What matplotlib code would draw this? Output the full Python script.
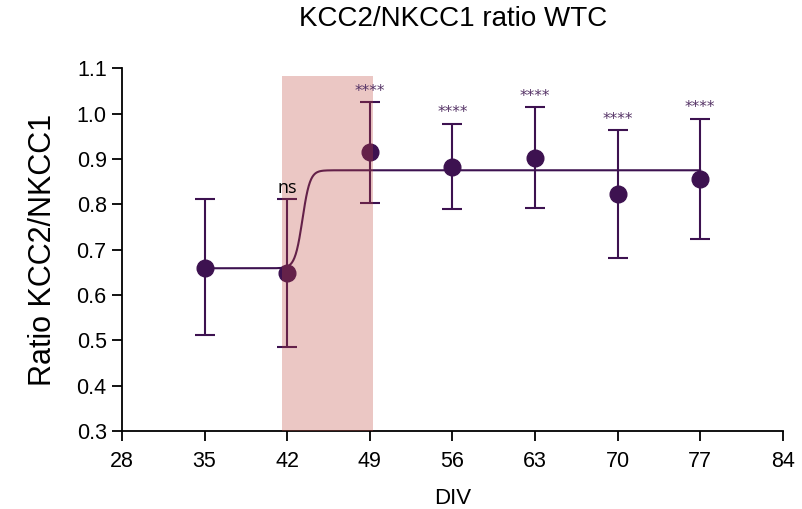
import numpy as np
import matplotlib
matplotlib.use("Agg")
import matplotlib.pyplot as plt
from matplotlib import font_manager

# ---- data ----
div = [35, 42, 49, 56, 63, 70, 77]
ratio = [0.659, 0.648, 0.915, 0.882, 0.903, 0.822, 0.856]
err_upper = [0.812, 0.812, 1.025, 0.977, 1.014, 0.963, 0.988]
err_lower = [0.512, 0.485, 0.802, 0.790, 0.792, 0.681, 0.724]
sig_labels = ["", "ns", "****", "****", "****", "****", "****"]
# sigmoidal fit parameters
fit_bottom = 0.659
fit_top = 0.875
fit_mid = 43.3
fit_slope = 0.32
fit_range = (35, 77)
shade_range = (41.6, 49.3)
shade_top = 1.082
xticks = [28, 35, 42, 49, 56, 63, 70, 77, 84]
yticks = [0.3, 0.4, 0.5, 0.6, 0.7, 0.8, 0.9, 1.0, 1.1]

names = {f.name for f in font_manager.fontManager.ttflist}
tick_font = "Liberation Sans Narrow" if "Liberation Sans Narrow" in names else "Liberation Sans"

purple = "#3d1250"
fig = plt.figure(figsize=(8.02, 5.09), dpi=100)
ax = fig.add_axes([0.152, 0.153, 0.824, 0.713])

ax.fill_between(shade_range, [0.3, 0.3], [shade_top, shade_top],
                color="#c0463c", alpha=0.3, linewidth=0, zorder=5)

xf = np.linspace(fit_range[0], fit_range[1], 800)
yf = fit_bottom + (fit_top - fit_bottom) / (1 + np.exp((fit_mid - xf) / fit_slope))
ax.plot(xf, yf, color=purple, lw=1.5, zorder=3)

y = np.array(ratio)
yerr = np.vstack([y - np.array(err_lower), np.array(err_upper) - y])
ax.errorbar(div, ratio, yerr=yerr, fmt="o", color=purple, ecolor=purple,
            ms=12, elinewidth=1.5, capsize=7, capthick=1.5, zorder=4)

for xv, up, lab in zip(div, err_upper, sig_labels):
    if not lab:
        continue
    if lab == "ns":
        ax.text(xv, up + 0.004, lab, ha="center", va="bottom", fontsize=13,
                family="Open Sans", color="black", zorder=6)
    else:
        ax.text(xv, up + 0.008, lab, ha="center", va="bottom", fontsize=11,
                family="DejaVu Sans", color="#553366", zorder=6)

ax.set_xlim(28, 84)
ax.set_ylim(0.3, 1.1)
ax.set_xticks(xticks)
ax.set_yticks(yticks)
ax.set_xticklabels([str(t) for t in xticks], family=tick_font, fontsize=15.5)
ax.set_yticklabels([f"{t:.1f}" for t in yticks], family=tick_font, fontsize=15.5)
ax.tick_params(axis="x", direction="out", length=7, width=1.3, color="black", pad=7)
ax.tick_params(axis="y", direction="out", length=7, width=1.3, color="black", pad=4)
for s in ["top", "right"]:
    ax.spines[s].set_visible(False)
for s in ["left", "bottom"]:
    ax.spines[s].set_linewidth(1.3)

ax.set_xlabel("DIV", family="Liberation Sans", fontsize=16, labelpad=12)
ax.set_ylabel("Ratio KCC2/NKCC1", family="Liberation Sans", fontsize=22, labelpad=13)
fig.text(0.565, 0.963, "KCC2/NKCC1 ratio WTC", ha="center", va="center",
         family="Liberation Sans", fontsize=20)

fig.savefig("out.png", dpi=100)
